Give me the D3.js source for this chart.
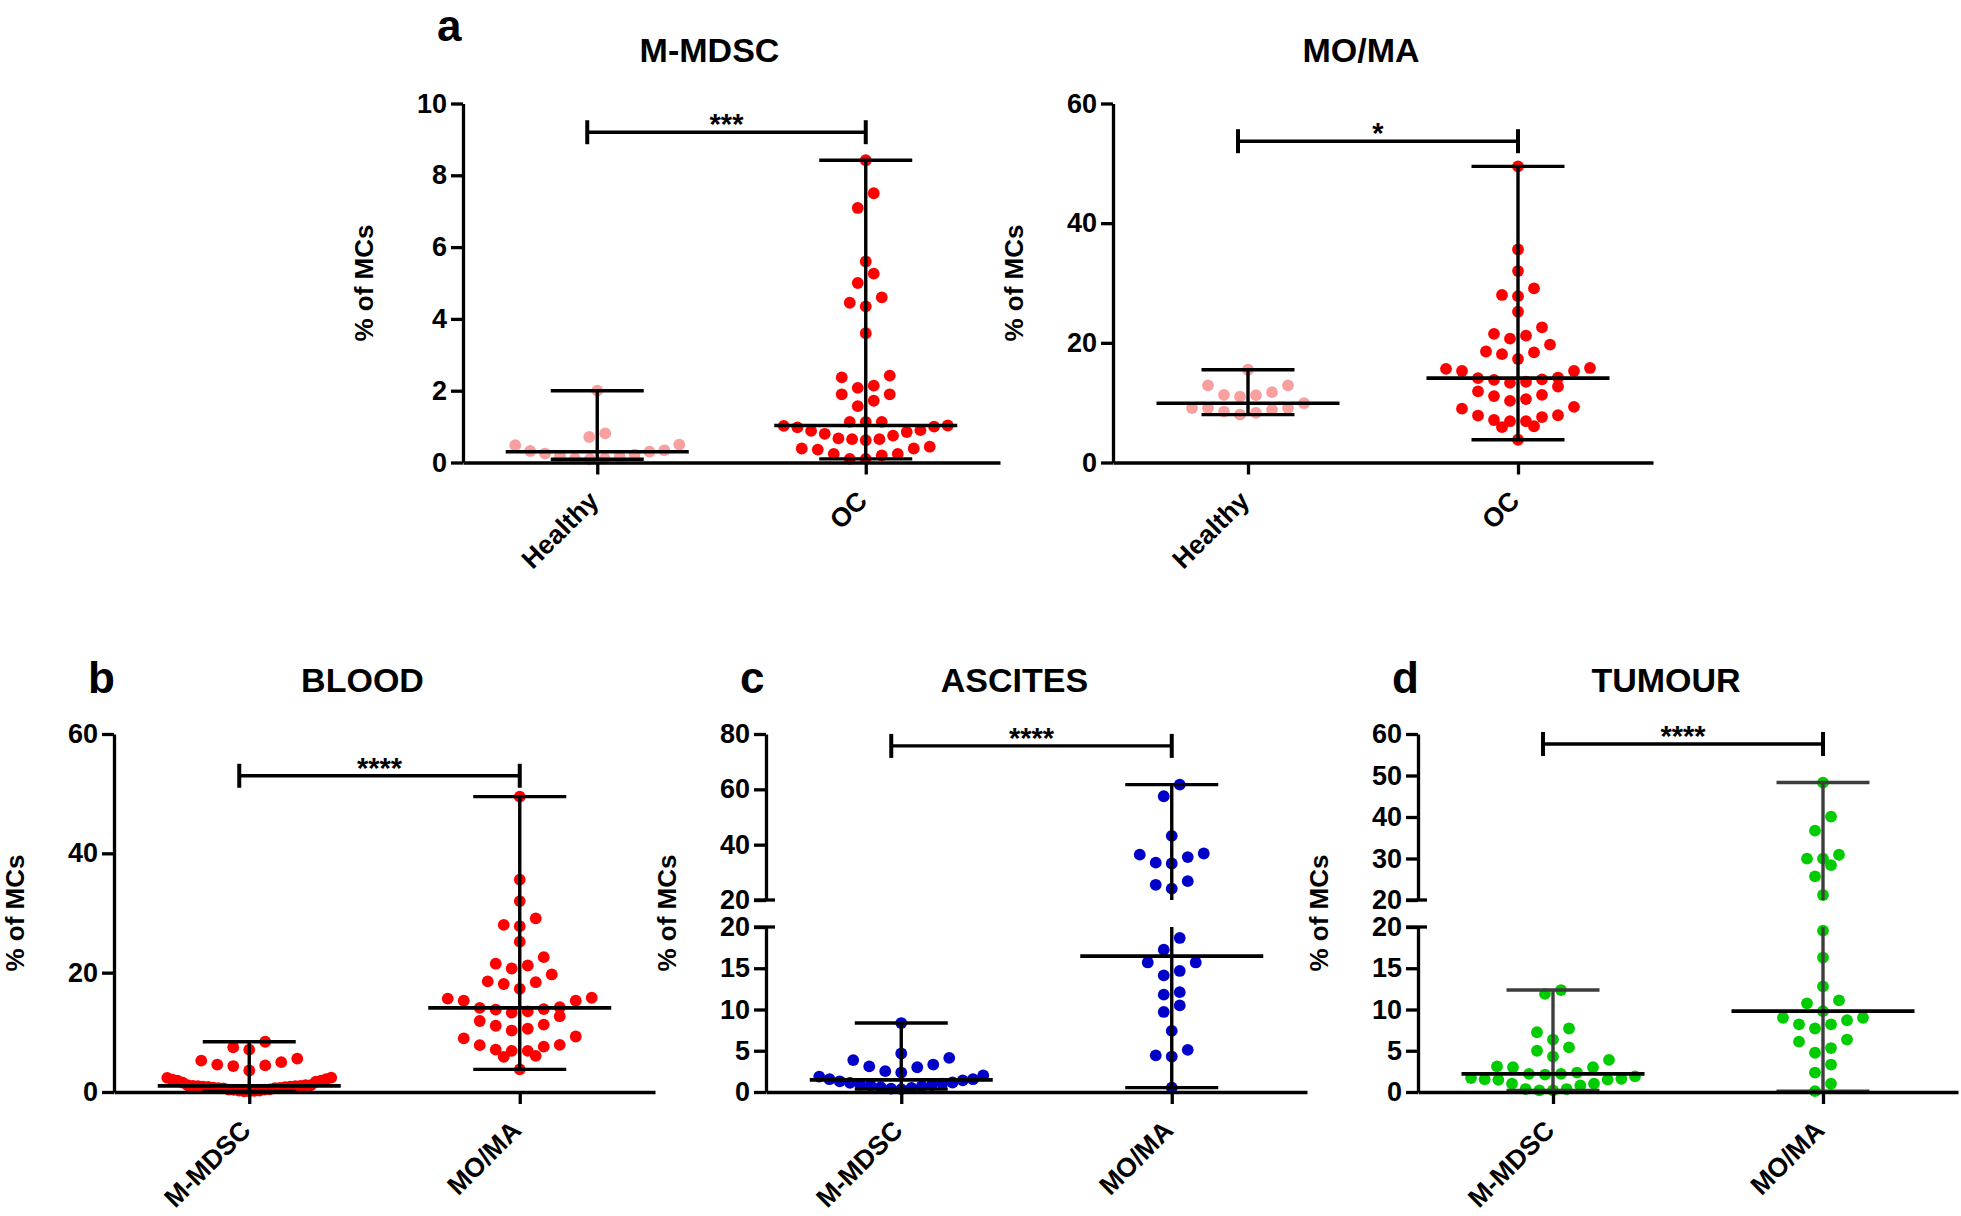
<!DOCTYPE html>
<html>
<head>
<meta charset="utf-8">
<script src="https://cdn.jsdelivr.net/npm/d3@7"></script>
<style>
  body { margin: 0; background: #fff; }
  text { font-family: Arial, "Liberation Sans", sans-serif; }
</style>
</head>
<body>
<svg id="fig" width="1961" height="1216"></svg>
<script>
// ---- data (% of MCs) ----
const mdscHealthy = [0.09, 0.11, 0.11, 0.16, 0.18, 0.22, 0.25, 0.30, 0.32, 0.34, 0.48, 0.5, 0.71, 0.81, 2.0];
const mdscOC = [0.1, 0.1, 0.2, 0.24, 0.24, 0.36, 0.39, 0.39, 0.44,
    0.62, 0.65, 0.65, 0.67, 0.75, 0.8, 0.85, 0.88, 0.9, 0.98, 1.0, 1.02, 1.03,
    1.13, 1.13, 1.13, 1.57, 1.72, 1.9, 1.9, 2.08, 2.14, 2.37, 2.42,
    3.6, 4.35, 4.45, 4.6, 5.0, 5.26, 5.6, 7.09, 7.5, 8.42];
const momaHealthy = [8.0, 8.3, 8.5, 8.85, 9.1, 9.1, 9.1, 9.9, 11.0, 11.25, 11.3, 11.75, 12.9, 12.9, 15.5];
const momaOC = [3.8, 5.9, 6.06, 6.9, 6.9, 7.1, 7.6, 7.85, 7.9, 9.0, 9.3,
    10.3, 10.6, 11.1, 11.3, 11.9, 12.7, 13.3, 13.5, 13.8, 13.9, 14.1, 14.2,
    15.3, 15.3, 15.65, 15.8, 17.3, 18.1, 18.4, 18.55, 19.7, 20.7, 21.2, 21.5, 22.6,
    25.2, 27.8, 28.0, 29.1, 32.0, 35.6, 49.5];
const ascitesMDSC = [0.35, 0.4, 0.5, 0.6, 0.7, 0.8, 0.85, 0.9, 1.0, 1.1, 1.15, 1.3, 1.4,
    1.55, 1.55, 1.87, 2.0, 2.36, 2.53, 3.0, 3.1, 3.33, 3.87, 4.13, 4.67, 8.36];
const ascitesMOMA = [0.53, 4.3, 4.44, 5.1, 7.4, 9.7, 10.5, 11.8, 12.1, 14.13, 14.67, 15.7, 15.7,
    17.24, 18.67, 24.1, 25.5, 26.8, 33.2, 33.5, 35.5, 36.4, 36.8, 43.2, 57.5, 61.7];
const tumourMDSC = [0.2, 0.2, 0.36, 0.36, 0.8, 1.0, 1.0, 1.47, 1.5, 1.55, 1.6, 1.7, 1.9,
    2.1, 2.2, 2.2, 2.36, 3.0, 3.0, 3.1, 3.9, 4.3, 5.0, 5.4, 6.36, 7.24, 7.7, 11.9, 12.36];
const tumourMOMA = [0.1, 1.0, 2.36, 3.33, 4.76, 5.33, 6.1, 6.36, 7.7, 8.2, 8.2, 8.7, 9.0, 9.0,
    9.8, 10.75, 11.1, 12.8, 16.3, 19.56, 21.2, 25.7, 28.4, 29.96, 29.96, 30.9, 36.7, 40.1, 48.3];

const groupsDisease = ["Healthy", "OC"];
const groupsCell = ["M-MDSC", "MO/MA"];
const ticks10 = [0, 2, 4, 6, 8, 10];
const ticks60 = [0, 20, 40, 60];
const ticksLow = [0, 5, 10, 15, 20];
const ticksAscitesUp = [20, 40, 60, 80];
const ticksTumourUp = [20, 30, 40, 50, 60];
// significance: [label, bracket height in data units]
const sigA1 = ["***", 9.2];
const sigA2 = ["*", 53.7];
const sigB = ["****", 53];
const sigC = ["****", 75.7];
const sigD = ["****", 57.6];

const PINK = "#f8a0a0", RED = "#ff0000", BLUE = "#0000c8", GREEN = "#00cc00";

const panels = [
  {letter: "a", title: "M-MDSC", x0: 463, x1: 1000, top: 103.5, bot: 462.5, max: 10, ticks: ticks10,
   groups: groupsDisease, series: [mdscHealthy, mdscOC], colors: [PINK, RED], sig: sigA1, titleY: 62, letterY: 41},
  {letter: "", title: "MO/MA", x0: 1113, x1: 1653, top: 103.5, bot: 462.5, max: 60, ticks: ticks60,
   groups: groupsDisease, series: [momaHealthy, momaOC], colors: [PINK, RED], sig: sigA2, titleY: 62, letterY: 41},
  {letter: "b", title: "BLOOD", x0: 114, x1: 655, top: 734, bot: 1092, max: 60, ticks: ticks60,
   groups: groupsCell, series: [mdscOC, momaOC], colors: [RED, RED], sig: sigB, titleY: 692, letterY: 693},
  {letter: "c", title: "ASCITES", x0: 766, x1: 1307, top: 734, bot: 1092, brkUp: 900, brkLow: 927, max: 80,
   ticks: ticksLow, ticksUp: ticksAscitesUp,
   groups: groupsCell, series: [ascitesMDSC, ascitesMOMA], colors: [BLUE, BLUE], sig: sigC, titleY: 692, letterY: 693},
  {letter: "d", title: "TUMOUR", x0: 1418, x1: 1958, top: 734, bot: 1092, brkUp: 900, brkLow: 927, max: 60,
   ticks: ticksLow, ticksUp: ticksTumourUp, barColor: "#3d3d3d",
   groups: groupsCell, series: [tumourMDSC, tumourMOMA], colors: [GREEN, GREEN], sig: sigD, titleY: 692, letterY: 693}
];

const BREAK = 20;
const R = 5.9, STEP = 16, MAX_SPREAD = 164, ROW_GAP = 15.4;
const MED_HALF = 91.5, CAP_HALF = 46.5, LW = 3.4;

const svg = d3.select("#fig");

// GraphPad-like scatter: group into rows, spread each row from the centre out
function swarm(values, y, cx) {
  const pts = values.map(v => ({v: v, py: y(v)})).sort((a, b) => b.py - a.py);
  const rows = [];
  let cur = null;
  pts.forEach(p => {
    if (!cur || cur.start - p.py > ROW_GAP) {
      cur = {start: p.py, pts: []};
      rows.push(cur);
    }
    cur.pts.push(p);
  });
  rows.forEach(r => {
    const n = r.pts.length;
    const sp = n > 1 ? Math.min(STEP, MAX_SPREAD / (n - 1)) : 0;
    r.pts.forEach((p, i) => {
      let k;
      if (n % 2) k = i === 0 ? 0 : (i % 2 ? -1 : 1) * Math.ceil(i / 2);
      else k = (i % 2 ? 1 : -1) * (Math.floor(i / 2) + 0.5);
      p.px = cx + k * sp;
    });
  });
  return pts;
}

function styleAxis(g) {
  g.selectAll("path, line").attr("stroke", "#000").attr("stroke-width", 3.3);
  g.selectAll("text").attr("fill", "#000").style("font-size", "27px").style("font-weight", "bold");
}

panels.forEach(p => {
  const g = svg.append("g");
  const broken = p.brkUp !== undefined;
  let y, yLow, yUp;
  if (broken) {
    yLow = d3.scaleLinear().domain([0, BREAK]).range([p.bot, p.brkLow]);
    yUp = d3.scaleLinear().domain([BREAK, p.max]).range([p.brkUp, p.top]);
    y = v => v <= BREAK ? yLow(v) : yUp(v);
  } else {
    yLow = d3.scaleLinear().domain([0, p.max]).range([p.bot, p.top]);
    y = yLow;
  }
  const x = d3.scalePoint().domain(p.groups).range([p.x0, p.x1]).padding(0.5);

  // dots
  p.series.forEach((vals, i) => {
    const pts = swarm(vals, y, x(p.groups[i]));
    g.append("g").selectAll("circle").data(pts).join("circle")
      .attr("cx", d => d.px).attr("cy", d => d.py).attr("r", R)
      .attr("fill", p.colors[i]);
  });

  // median with range
  const barColor = p.barColor || "#000";
  p.series.forEach((vals, i) => {
    const cx = x(p.groups[i]);
    const lo = d3.min(vals), hi = d3.max(vals), med = d3.median(vals);
    const segs = [];
    if (broken && hi > BREAK && lo < BREAK) {
      segs.push([y(lo), yLow(BREAK)], [yUp(BREAK), y(hi)]);
    } else {
      segs.push([y(lo), y(hi)]);
    }
    segs.forEach(s => {
      g.append("line").attr("x1", cx).attr("x2", cx).attr("y1", s[0]).attr("y2", s[1])
        .attr("stroke", barColor).attr("stroke-width", LW);
    });
    [lo, hi].forEach(v => {
      g.append("line").attr("x1", cx - CAP_HALF).attr("x2", cx + CAP_HALF)
        .attr("y1", y(v)).attr("y2", y(v))
        .attr("stroke", barColor).attr("stroke-width", LW);
    });
    g.append("line").attr("x1", cx - MED_HALF).attr("x2", cx + MED_HALF)
      .attr("y1", y(med)).attr("y2", y(med))
      .attr("stroke", "#000").attr("stroke-width", LW + 0.3);
  });

  // y axis
  const ya = g.append("g").attr("transform", `translate(${p.x0},0)`)
    .call(d3.axisLeft(yLow).tickValues(p.ticks).tickSize(12).tickSizeOuter(0).tickPadding(4));
  styleAxis(ya);
  if (broken) {
    const yu = g.append("g").attr("transform", `translate(${p.x0},0)`)
      .call(d3.axisLeft(yUp).tickValues(p.ticksUp).tickSize(12).tickSizeOuter(0).tickPadding(4));
    styleAxis(yu);
    // break marks stick out to the right of the axis
    [yLow(BREAK), yUp(BREAK)].forEach(yy => {
      g.append("line").attr("x1", p.x0 - 12).attr("x2", p.x0 + 9).attr("y1", yy).attr("y2", yy)
        .attr("stroke", "#000").attr("stroke-width", 3.3);
    });
  }

  // x axis
  const xa = g.append("g").attr("transform", `translate(0,${p.bot})`)
    .call(d3.axisBottom(x).tickSize(12).tickSizeOuter(0).tickFormat(""));
  styleAxis(xa);
  p.groups.forEach(name => {
    g.append("text")
      .attr("transform", `translate(${x(name) + 3},${p.bot + 40}) rotate(-45)`)
      .attr("text-anchor", "end")
      .style("font-size", "26.5px").style("font-weight", "bold")
      .text(name);
  });

  // y title
  g.append("text")
    .attr("transform", `translate(${p.x0 - 99},${(p.top + p.bot) / 2}) rotate(-90)`)
    .attr("text-anchor", "middle").attr("dy", "0.35em")
    .style("font-size", "26px").style("font-weight", "bold")
    .text("% of MCs");

  // title and panel letter
  g.append("text")
    .attr("x", (p.x0 + p.x1) / 2 - 22).attr("y", p.titleY)
    .attr("text-anchor", "middle")
    .style("font-size", "34px").style("font-weight", "bold")
    .text(p.title);
  if (p.letter) {
    g.append("text")
      .attr("x", p.x0 - 26).attr("y", p.letterY)
      .style("font-size", "44px").style("font-weight", "bold")
      .text(p.letter);
  }

  // significance bracket
  const bx0 = x(p.groups[0]) - 10, bx1 = x(p.groups[1]), by = y(p.sig[1]);
  const br = g.append("g").attr("stroke", "#000");
  br.append("line").attr("x1", bx0).attr("x2", bx1).attr("y1", by).attr("y2", by)
    .attr("stroke-width", 3.4);
  [bx0, bx1].forEach(bx => {
    br.append("line").attr("x1", bx).attr("x2", bx).attr("y1", by - 12).attr("y2", by + 12)
      .attr("stroke-width", 4);
  });
  g.append("text")
    .attr("x", (bx0 + bx1) / 2).attr("y", by + 2)
    .attr("text-anchor", "middle")
    .style("font-size", "29px").style("font-weight", "bold")
    .text(p.sig[0]);
});
</script>
</body>
</html>
